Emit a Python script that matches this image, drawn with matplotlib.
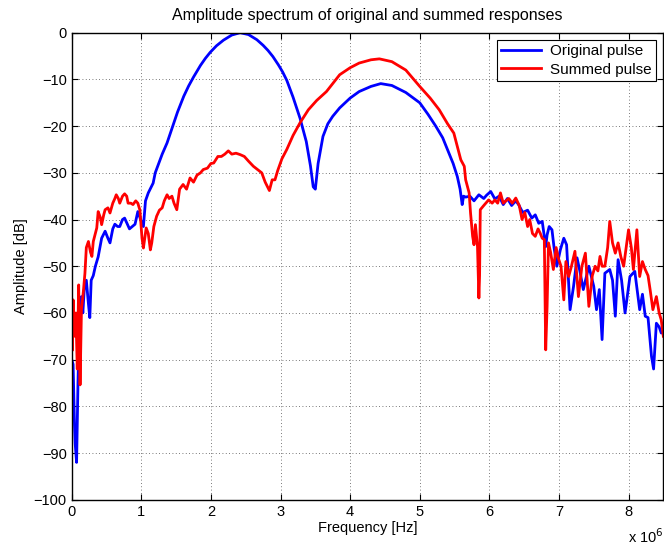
import numpy as np
import matplotlib
matplotlib.use("Agg")
import matplotlib.pyplot as plt

plt.rcParams['font.family'] = ['Liberation Sans', 'DejaVu Sans']

# frequency in MHz, amplitude in dB
freq_orig = [0.00, 0.02, 0.04, 0.05, 0.07, 0.09, 0.11, 0.14, 0.16, 0.18, 0.21, 0.24,
             0.26, 0.28, 0.31, 0.34, 0.38, 0.43, 0.48, 0.52, 0.55, 0.59, 0.62, 0.66,
             0.69, 0.73, 0.76, 0.80, 0.83, 0.87, 0.91, 0.95, 0.99, 1.03, 1.06, 1.10,
             1.17, 1.20, 1.25, 1.30, 1.37, 1.44, 1.52, 1.61, 1.68, 1.75, 1.85, 1.92,
             1.99, 2.08, 2.18, 2.30, 2.42, 2.54, 2.66, 2.75, 2.82, 2.89, 2.97, 3.03,
             3.09, 3.18, 3.28, 3.37, 3.43, 3.47,
             3.50, 3.54, 3.61, 3.68, 3.75, 3.85, 4.00, 4.13, 4.30, 4.44, 4.60, 4.80,
             5.00, 5.12, 5.23, 5.33, 5.42, 5.48, 5.54, 5.58, 5.61, 5.63, 5.66, 5.72,
             5.78, 5.85, 5.92, 5.96, 6.02, 6.08, 6.14, 6.20, 6.26, 6.32, 6.38, 6.42,
             6.48, 6.55, 6.61, 6.66, 6.71, 6.76, 6.81, 6.83, 6.86, 6.90, 6.93, 6.97,
             7.02, 7.07, 7.11, 7.16, 7.21, 7.26, 7.30, 7.35, 7.43, 7.50, 7.54, 7.58,
             7.62, 7.66, 7.73, 7.77, 7.81, 7.85, 7.90, 7.95, 8.02, 8.09, 8.16, 8.20,
             8.24, 8.28, 8.33, 8.36, 8.40, 8.44, 8.47, 8.50]
amp_orig = [-70, -71, -84, -88, -92, -75, -62, -56.5, -60, -55, -53, -58,
            -61, -53, -52, -50, -48, -44, -42.5, -44, -45, -42, -41, -41.5,
            -41.5, -40, -39.7, -41, -42, -41.5, -41, -38.3, -40, -41.5, -36, -34.3,
            -32.2, -30, -28, -26, -23.6, -20.5, -17.0, -13.6, -11.4, -9.5, -7.0, -5.5,
            -4.2, -2.8, -1.6, -0.5, 0, -0.4, -1.5, -2.7, -3.8, -5.1, -6.9, -8.4,
            -10.2, -13.8, -18.3, -23.3, -28.5, -33,
            -33.5, -28, -22.2, -19.5, -17.9, -16.1, -14, -12.6, -11.5, -10.9, -11.3, -12.8,
            -15, -17.5, -20, -22.5, -25.8, -28, -30.8, -33.5, -36.8, -35, -35.2, -35,
            -36, -34.7, -35.5, -34.8, -34, -35.6, -35, -36.8, -35.5, -37, -36, -36.8,
            -38.5, -38, -39.7, -39, -40.8, -40.4, -45.8, -43.3, -41.5, -42.2, -46, -50,
            -46.5, -44, -45.4, -59.3, -54.3, -48.2, -51, -55, -50, -54.3, -59.3, -55,
            -65.7, -51.5, -50.7, -53, -60.7, -48.6, -53, -60, -52.2, -51.1, -59.3, -56,
            -60.7, -61, -69.3, -72, -62.2, -63, -64.3, -64]

freq_sum = [0.00, 0.01, 0.02, 0.04, 0.06, 0.08, 0.10, 0.12, 0.14, 0.17, 0.19, 0.21,
            0.24, 0.27, 0.29, 0.31, 0.34, 0.36, 0.38, 0.41, 0.43, 0.46, 0.48, 0.52,
            0.55, 0.59, 0.62, 0.64, 0.67, 0.69, 0.73, 0.76, 0.79, 0.81, 0.85, 0.88,
            0.92, 0.95, 0.98, 1.01, 1.03, 1.05, 1.07, 1.10, 1.13, 1.15, 1.18, 1.22,
            1.26, 1.30, 1.33, 1.37, 1.40, 1.44, 1.47, 1.51, 1.55, 1.60, 1.65, 1.70,
            1.75, 1.80, 1.85, 1.89, 1.95, 2.00, 2.04, 2.10, 2.15, 2.20, 2.25, 2.30,
            2.36, 2.42, 2.48, 2.54, 2.61, 2.67, 2.73, 2.78, 2.84, 2.88, 2.92, 2.96,
            3.02, 3.09, 3.18, 3.28, 3.40, 3.52, 3.66, 3.85, 4.00, 4.13, 4.30, 4.42,
            4.60, 4.80, 5.00, 5.15, 5.28, 5.40, 5.49, 5.59, 5.64, 5.66, 5.71, 5.73,
            5.76, 5.78, 5.80, 5.83, 5.85, 5.86, 5.87, 5.92, 5.99, 6.04, 6.08, 6.12,
            6.16, 6.20, 6.23, 6.28, 6.33, 6.38, 6.43, 6.47, 6.51, 6.55, 6.58, 6.62,
            6.66, 6.70, 6.73, 6.76, 6.79, 6.81, 6.83, 6.85, 6.88, 6.92, 6.96, 6.99,
            7.03, 7.07, 7.10, 7.14, 7.18, 7.23, 7.28, 7.33, 7.38, 7.43, 7.48, 7.52,
            7.56, 7.59, 7.62, 7.66, 7.70, 7.73, 7.77, 7.81, 7.85, 7.89, 7.93, 8.00,
            8.04, 8.07, 8.12, 8.16, 8.20, 8.24, 8.28, 8.31, 8.35, 8.40, 8.44, 8.47, 8.50]
amp_sum = [-60, -68, -57.2, -65, -60, -72, -54, -75.4, -59.3, -55, -51.5, -46,
           -44.7, -47, -47.9, -44.7, -43, -41.8, -38.3, -39.5, -41.1, -39, -37.9, -37.5,
           -38.6, -36.5, -35.5, -34.7, -35.5, -36.5, -35, -34.5, -35, -36.5, -36.5, -36.8,
           -36, -36.5, -38, -44, -46.1, -44, -41.8, -43, -46.5, -45, -41.5, -39.3,
           -38, -37.5, -36, -34.7, -35.5, -35, -36.5, -37.9, -33.5, -32.5, -33.5, -31.1,
           -32, -30.5, -30, -29.3, -29, -28, -27.9, -26.5, -26.5, -26, -25.3, -26,
           -25.8, -26.1, -26.5, -27.5, -28.6, -29.3, -30, -32, -33.8, -31.5, -31.5, -29.5,
           -27, -25, -22, -19.3, -16.5, -14.5, -12.6, -9, -7.5, -6.5, -5.8, -5.6,
           -6.2, -8, -11.5, -14, -16.5, -19.5, -21.5, -27.2, -28.6, -31.5, -34.3, -38.6,
           -43.6, -45.4, -41.1, -45.8, -56.8, -52, -37.9, -37, -35.8, -36.5, -35.8, -36.5,
           -34.3, -36.5, -36.1, -35.5, -36.5, -35.4, -37, -40, -38.5, -41.5, -40, -43,
           -43.6, -42, -42.9, -44, -44.3, -67.9, -58.6, -45, -47, -50.7, -46, -48.2,
           -50, -57.2, -49, -52.2, -50, -46.8, -56.5, -50, -47.2, -58.6, -52, -50,
           -51, -47.9, -50, -50, -46, -40.4, -45, -47.2, -45, -48, -50, -42.2,
           -46, -50.7, -42.2, -52.2, -49, -50.7, -52, -55, -59.3, -56.5, -60, -61.5, -65]

fig = plt.figure(figsize=(6.64, 5.45), dpi=100)
ax = fig.add_axes([0.108, 0.083, 0.891, 0.857])

ax.plot(np.array(freq_orig) * 1e6, amp_orig, color="blue", lw=2, label="Original pulse")
ax.plot(np.array(freq_sum) * 1e6, amp_sum, color="red", lw=2, label="Summed pulse")

ax.set_xlim(0, 8.5e6)
ax.set_ylim(-100, 0)
ax.set_xticks(np.arange(0, 9) * 1e6)
ax.set_xticklabels([str(i) for i in range(9)])
ax.set_yticks(np.arange(-100, 1, 10))
ax.tick_params(direction="in", top=True, right=True, labelsize=10.5, length=4)
ax.grid(True, linestyle=(0, (1, 3)), color="0.3", lw=0.6)
for s in ax.spines.values():
    s.set_linewidth(1.0)

ax.set_title("Amplitude spectrum of original and summed responses", fontsize=11.5, pad=9)
ax.set_xlabel("Frequency [Hz]", fontsize=10.5, labelpad=2)
ax.set_ylabel("Amplitude [dB]", fontsize=10.5)
ax.text(1.0, -0.058, "x 10$^6$", transform=ax.transAxes, ha="right", va="top", fontsize=10.5)

leg = ax.legend(loc="upper right", fontsize=11, fancybox=False, framealpha=1,
                edgecolor="black", borderaxespad=0.45, handlelength=2.6,
                borderpad=0.3, labelspacing=0.3, handletextpad=0.6)
leg.get_frame().set_linewidth(0.8)

fig.savefig("out.png", dpi=100)
